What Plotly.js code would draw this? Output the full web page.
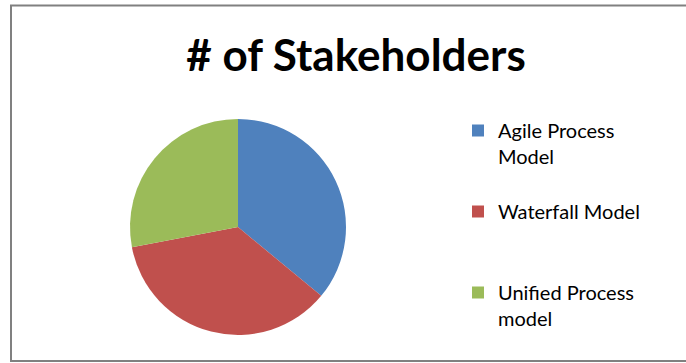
<!DOCTYPE html>
<html>
<head>
<meta charset="utf-8">
<script src="https://cdn.plot.ly/plotly-3.0.1.min.js"></script>
<style>html,body{margin:0;padding:0;background:#fff;}#chart{width:686px;height:363px;}</style>
</head>
<body>
<div id="chart"></div>
<script>
const chartTitle = "# of Stakeholders";
const categories = ["Agile Process<br>Model<br> ", "Waterfall Model<br> <br> ", "Unified Process<br>model"];
const stakeholders = [9, 9, 7];
const sliceColors = ["#4F81BD", "#C0504D", "#9BBB59"];

const trace = {
  type: "pie",
  labels: categories,
  values: stakeholders,
  sort: false,
  direction: "clockwise",
  rotation: 0,
  textinfo: "none",
  hoverinfo: "label+value+percent",
  marker: {colors: sliceColors, line: {width: 0}},
  domain: {x: [130/686, 346/686], y: [28/363, 244/363]}
};

const layout = {
  width: 686, height: 363,
  margin: {l: 0, r: 0, t: 0, b: 0},
  paper_bgcolor: "#ffffff",
  font: {family: "Lato, 'Open Sans', sans-serif", color: "#000000"},
  title: {
    text: "<b>" + chartTitle + "</b>",
    font: {family: "Lato, sans-serif", size: 44, color: "#000000"},
    x: 356/686, xanchor: "center", y: 1 - 56/363, yanchor: "middle", xref: "paper", yref: "paper"
  },
  showlegend: true,
  legend: {
    x: 458/686, xanchor: "left", y: 1 - 111/363, yanchor: "top",
    valign: "top",
    font: {family: "Lato, sans-serif", size: 20, color: "#000000"},
    bgcolor: "rgba(0,0,0,0)", borderwidth: 0
  },
  shapes: [{
    type: "rect", xref: "paper", yref: "paper",
    x0: 11/686, x1: 700/686, y0: 1 - 361/363, y1: 1 - 5.5/363,
    line: {color: "#808080", width: 2}, fillcolor: "rgba(0,0,0,0)"
  }]
};

Plotly.newPlot("chart", [trace], layout, {displayModeBar: false, staticPlot: true});
</script>
</body>
</html>
